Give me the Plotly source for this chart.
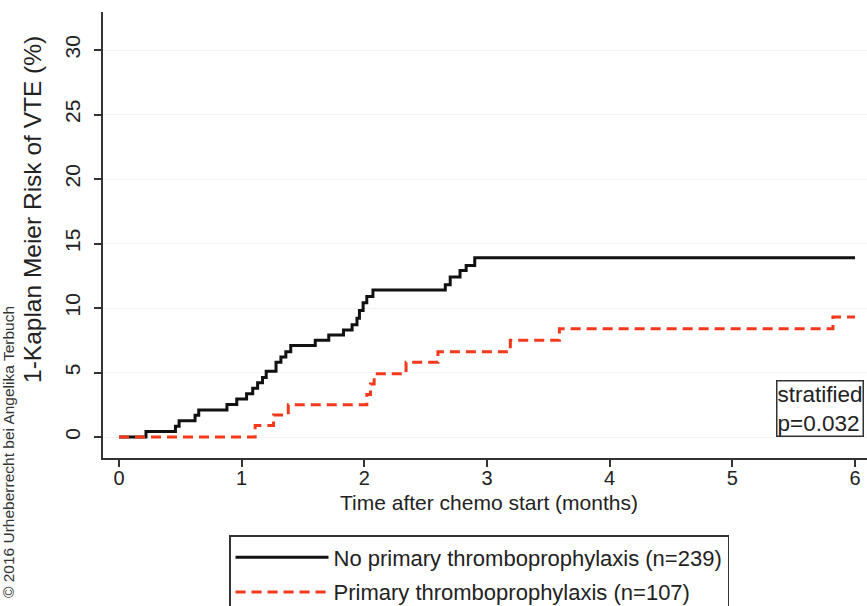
import plotly.graph_objects as go

# ---- data ----
months_no = [0.0, 0.22, 0.46, 0.49, 0.62, 0.65, 0.88, 0.96, 1.04, 1.09, 1.13, 1.17, 1.20,
             1.28, 1.32, 1.36, 1.40, 1.60, 1.71, 1.83, 1.90, 1.94, 1.96, 1.99, 2.02, 2.07,
             2.66, 2.70, 2.78, 2.83, 2.90, 6.0]
risk_no = [0.0, 0.42, 0.84, 1.26, 1.68, 2.10, 2.52, 2.94, 3.36, 3.78, 4.20, 4.62, 5.1,
           5.8, 6.2, 6.6, 7.1, 7.5, 7.9, 8.3, 8.7, 9.2, 9.8, 10.4, 10.9, 11.4,
           11.8, 12.4, 12.9, 13.3, 13.9, 13.9]

months_pro = [0.0, 1.11, 1.26, 1.38, 2.02, 2.05, 2.08, 2.34, 2.60, 3.19, 3.59, 5.82, 6.0]
risk_pro = [0.0, 0.9, 1.7, 2.5, 3.3, 4.1, 4.9, 5.8, 6.6, 7.5, 8.4, 9.3, 9.3]

x_ticks = [0, 1, 2, 3, 4, 5, 6]
y_ticks = [0, 5, 10, 15, 20, 25, 30]

name_no = "No primary thromboprophylaxis (n=239)"
name_pro = "Primary thromboprophylaxis (n=107)"

FONT = "Liberation Sans, Arial, Helvetica, sans-serif"
AX = "#333333"

fig = go.Figure()
fig.add_trace(go.Scatter(
    x=months_no, y=risk_no, mode="lines", name=name_no, legendgroup="a",
    line=dict(color="#111111", width=3, shape="hv")))
fig.add_trace(go.Scatter(
    x=months_pro, y=risk_pro, mode="lines", name=name_pro, legendgroup="b",
    line=dict(color="#f2391c", width=3, shape="hv", dash="10px,6px")))

# plot area: x 103..867, y 12..458 px
W, H = 867, 606
L, R, T, B = 103, 0, 12, 148
pw, ph = W - L - R, H - T - B

def px(x):
    return (x - L) / pw

def py(y):
    return (H - B - y) / ph

fig.update_layout(
    width=W, height=H,
    margin=dict(l=L, r=R, t=T, b=B, autoexpand=False),
    paper_bgcolor="white", plot_bgcolor="white",
    font=dict(family=FONT, size=19, color="#222222"),
    showlegend=True,
    legend=dict(
        x=px(229), y=py(535), xanchor="left", yanchor="top",
        bordercolor=AX, borderwidth=1.5, bgcolor="white",
        font=dict(family=FONT, size=22, color="#222222"),
        traceorder="grouped", tracegroupgap=3,
        itemwidth=93,
    ),
    xaxis=dict(
        range=[(L - 119) / 122.67, (W - 119) / 122.67],
        tickvals=x_ticks, ticktext=[str(v) for v in x_ticks],
        ticks="outside", ticklen=7, tickwidth=1.5, tickcolor=AX,
        ticklabelstandoff=-6,
        showline=True, linecolor=AX, linewidth=2,
        showgrid=False, zeroline=False,
        tickfont=dict(size=20),
    ),
    yaxis=dict(
        range=[(437 - 458) / 12.9, (437 - 12) / 12.9],
        tickvals=y_ticks, ticktext=[str(v) for v in y_ticks],
        ticks="outside", ticklen=7, tickwidth=1.5, tickcolor=AX,
        tickangle=-90, ticklabelstandoff=6,
        showline=True, linecolor=AX, linewidth=2,
        showgrid=True, gridcolor="rgba(205,220,230,0.3)", gridwidth=1,
        zeroline=False,
        tickfont=dict(size=21),
    ),
    annotations=[
        dict(text="Time after chemo start (months)", xref="paper", yref="paper",
             x=px(489), y=py(502), xanchor="center", yanchor="middle",
             showarrow=False, font=dict(size=21)),
        dict(text="1-Kaplan Meier Risk of VTE (%)", xref="paper", yref="paper",
             x=px(33), y=py(210), xanchor="center", yanchor="middle",
             textangle=-90, showarrow=False, font=dict(size=24.5)),
        dict(text="stratified<br>p=0.032", xref="paper", yref="paper",
             x=px(776), y=py(380), xanchor="left", yanchor="top", align="left",
             showarrow=False, font=dict(size=22.5),
             bordercolor=AX, borderwidth=1.5, borderpad=0, bgcolor="white"),
        dict(text="© 2016 Urheberrecht bei Angelika Terbuch", xref="paper", yref="paper",
             x=px(8), y=py(452), xanchor="center", yanchor="middle",
             textangle=-90, showarrow=False, font=dict(size=15.5, color="#333333")),
    ],
)

fig.write_html(
    "out.html",
    config={"displayModeBar": False},
    post_script="document.body.style.margin='0';document.body.style.overflow='hidden';",
)
